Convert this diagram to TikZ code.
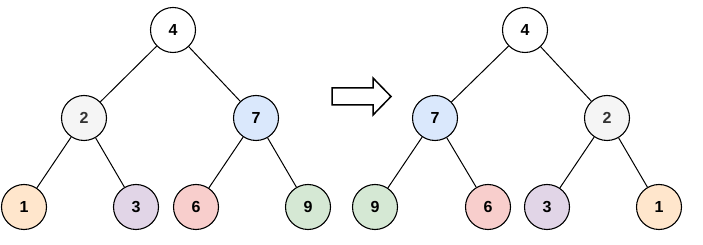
\documentclass[tikz,border=0pt]{standalone}
\usepackage{fontspec}
\setmainfont{Liberation Sans}

\definecolor{cwhite}{HTML}{FFFFFF}
\definecolor{cgray}{HTML}{F5F5F5}
\definecolor{cblue}{HTML}{DAE8FC}
\definecolor{corange}{HTML}{FFE6CC}
\definecolor{cpurple}{HTML}{E1D5E7}
\definecolor{cred}{HTML}{F8CECC}
\definecolor{cgreen}{HTML}{D5E8D4}
\definecolor{tgray}{HTML}{333333}

\begin{document}
\begin{tikzpicture}[x=1pt,y=-1pt,
    vertex/.style={circle,draw,line width=1.1pt,minimum size=45pt,inner sep=0pt,
        font=\fontsize{16}{18}\selectfont\bfseries},
    edge/.style={line width=1pt}]
    \useasboundingbox (0,0) rectangle (703,245);

    % before
    \node [vertex,fill=cwhite] (l4) at (173,30) {4};
    \node [vertex,fill=cgray,text=tgray] (l2) at (84,118) {2};
    \node [vertex,fill=cblue] (l7) at (256,118) {7};
    \node [vertex,fill=corange] (l1) at (24,207) {1};
    \node [vertex,fill=cpurple] (l3) at (136,207) {3};
    \node [vertex,fill=cred] (l6) at (196,207) {6};
    \node [vertex,fill=cgreen] (l9) at (308,207) {9};

    \draw [edge] (l4) -- (l2);
    \draw [edge] (l4) -- (l7);
    \draw [edge] (l2) -- (l1);
    \draw [edge] (l2) -- (l3);
    \draw [edge] (l7) -- (l6);
    \draw [edge] (l7) -- (l9);

    % arrow
    \draw [line width=1.5pt,fill=white] (332,88) -- (373,88) -- (373,78) -- (391,96.5)
        -- (373,115) -- (373,105) -- (332,105) -- cycle;

    % after
    \node [vertex,fill=cwhite] (r4) at (525,30) {4};
    \node [vertex,fill=cblue] (r7) at (435,118) {7};
    \node [vertex,fill=cgray,text=tgray] (r2) at (607,118) {2};
    \node [vertex,fill=cgreen] (r9) at (375,207) {9};
    \node [vertex,fill=cred] (r6) at (488,207) {6};
    \node [vertex,fill=cpurple] (r3) at (547,207) {3};
    \node [vertex,fill=corange] (r1) at (659,207) {1};

    \draw [edge] (r4) -- (r7);
    \draw [edge] (r4) -- (r2);
    \draw [edge] (r7) -- (r9);
    \draw [edge] (r7) -- (r6);
    \draw [edge] (r2) -- (r3);
    \draw [edge] (r2) -- (r1);
\end{tikzpicture}
\end{document}
